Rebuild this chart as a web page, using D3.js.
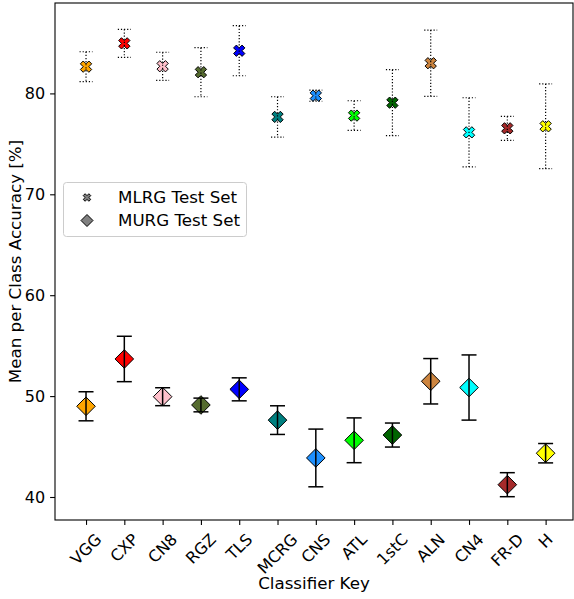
<!DOCTYPE html>
<html>
<head>
<meta charset="utf-8">
<script src="https://cdn.jsdelivr.net/npm/d3@7"></script>
<style>
  body { margin: 0; background: #fff; }
  text { font-family: "DejaVu Sans", sans-serif; fill: #000; }
</style>
</head>
<body>
<svg id="chart" width="574" height="599"></svg>
<script>
// classifier keys and their marker colours
var categories = ["VGG", "CXP", "CN8", "RGZ", "TLS", "MCRG", "CNS", "ATL", "1stC", "ALN", "CN4", "FR-D", "H"];
var colors = ["orange", "red", "pink", "darkolivegreen", "blue", "teal", "dodgerblue", "lime", "darkgreen", "peru", "cyan", "brown", "yellow"];

// MLRG test set: mean and error (+/-)
var mlrgMean = [82.65, 84.96, 82.69, 82.10, 84.23, 77.67, 79.77, 77.80, 79.08, 82.99, 76.14, 76.54, 76.74];
var mlrgErr  = [1.48, 1.39, 1.39, 2.43, 2.48, 2.00, 0.55, 1.47, 3.27, 3.29, 3.43, 1.19, 4.20];

// MURG test set: mean and error (+/-)
var murgMean = [48.99, 53.68, 49.94, 49.12, 50.67, 47.62, 43.87, 45.62, 46.14, 51.47, 50.85, 41.22, 44.34];
var murgErr  = [1.44, 2.25, 0.89, 0.68, 1.14, 1.42, 2.86, 2.22, 1.19, 2.25, 3.23, 1.19, 0.96];

var yTicks = [40, 50, 60, 70, 80];
var legendLabels = ["MLRG Test Set", "MURG Test Set"];

(function() {
var pL = 55, pR = 573, pT = 3, pB = 520;
var svg = d3.select("#chart");

var x = d3.scaleLinear().domain([-0.81, 12.715]).range([pL, pR]);
var y = d3.scaleLinear().domain([37.72, 88.96]).range([pB, pT]);

// filled "X" marker: a plus shape turned 45 degrees
function xMarker(s) {
    var u = s / 6;
    var pts = [[-1,-3],[1,-3],[1,-1],[3,-1],[3,1],[1,1],[1,3],[-1,3],[-1,1],[-3,1],[-3,-1],[-1,-1]];
    var c = Math.SQRT1_2;
    return "M" + pts.map(function(p){
        var px = p[0] * u, py = p[1] * u;
        return [(px - py) * c, (px + py) * c].join(",");
    }).join("L") + "Z";
}
function diamond(r) {
    return "M0," + (-r) + "L" + r + ",0L0," + r + "L" + (-r) + ",0Z";
}

// axes
var yAxis = svg.append("g")
    .attr("transform", "translate(" + pL + ",0)")
    .call(d3.axisLeft(y).tickValues(yTicks).tickSize(4.9).tickPadding(4.9));
var xAxis = svg.append("g")
    .attr("transform", "translate(0," + pB + ")")
    .call(d3.axisBottom(x).tickValues(d3.range(categories.length)).tickSize(4.9).tickFormat(""));
[yAxis, xAxis].forEach(function(a){
    a.select(".domain").remove();
    a.selectAll("line").attr("stroke", "#000").attr("stroke-width", 1.1);
});
yAxis.selectAll("text").attr("font-size", 16).attr("font-family", "DejaVu Sans");

// rotated x labels, bbox centred under the tick (like matplotlib rotation=45)
var fs = 16;
svg.append("g").selectAll("text")
    .data(categories)
    .enter().append("text")
    .attr("font-size", fs)
    .attr("text-anchor", "middle")
    .attr("dominant-baseline", "central")
    .text(function(d){ return d; })
    .attr("transform", function(d, i){
        var L = this.getComputedTextLength();
        var off = (L + 1.16 * fs) / (2 * Math.SQRT2);
        return "translate(" + x(i) + "," + (pB + 10 + off) + ") rotate(-45)";
    });

// frame
svg.append("rect")
    .attr("x", pL).attr("y", pT)
    .attr("width", pR - pL).attr("height", pB - pT)
    .attr("fill", "none").attr("stroke", "#000").attr("stroke-width", 1.1);

// MLRG: dotted error bars with X markers
var gA = svg.append("g");
gA.selectAll("path.mk")
    .data(mlrgMean)
    .enter().append("path")
    .attr("d", xMarker(12))
    .attr("transform", function(d, i){ return "translate(" + x(i) + "," + y(d) + ")"; })
    .attr("fill", function(d, i){ return colors[i]; })
    .attr("stroke", "#000").attr("stroke-width", 1);
var barsA = gA.selectAll("g.bar")
    .data(mlrgMean)
    .enter().append("g")
    .attr("stroke", "#000").attr("stroke-width", 1.2)
    .attr("stroke-dasharray", "1.2,1.9");
barsA.append("line")
    .attr("x1", function(d, i){ return x(i); }).attr("x2", function(d, i){ return x(i); })
    .attr("y1", function(d, i){ return y(d + mlrgErr[i]); })
    .attr("y2", function(d, i){ return y(d - mlrgErr[i]); });
[1, -1].forEach(function(sgn){
    barsA.append("line")
        .attr("x1", function(d, i){ return x(i) - 6.5; }).attr("x2", function(d, i){ return x(i) + 6.5; })
        .attr("y1", function(d, i){ return y(d + sgn * mlrgErr[i]); })
        .attr("y2", function(d, i){ return y(d + sgn * mlrgErr[i]); });
});

// MURG: solid error bars with diamond markers
var gB = svg.append("g");
gB.selectAll("path.mk")
    .data(murgMean)
    .enter().append("path")
    .attr("d", diamond(9.3))
    .attr("transform", function(d, i){ return "translate(" + x(i) + "," + y(d) + ")"; })
    .attr("fill", function(d, i){ return colors[i]; })
    .attr("stroke", "#000").attr("stroke-width", 1);
var barsB = gB.selectAll("g.bar")
    .data(murgMean)
    .enter().append("g")
    .attr("stroke", "#000").attr("stroke-width", 1.5);
barsB.append("line")
    .attr("x1", function(d, i){ return x(i); }).attr("x2", function(d, i){ return x(i); })
    .attr("y1", function(d, i){ return y(d + murgErr[i]); })
    .attr("y2", function(d, i){ return y(d - murgErr[i]); });
[1, -1].forEach(function(sgn){
    barsB.append("line")
        .attr("x1", function(d, i){ return x(i) - 7.5; }).attr("x2", function(d, i){ return x(i) + 7.5; })
        .attr("y1", function(d, i){ return y(d + sgn * murgErr[i]); })
        .attr("y2", function(d, i){ return y(d + sgn * murgErr[i]); });
});

// legend
var lg = svg.append("g");
lg.append("rect")
    .attr("x", 63.5).attr("y", 182.5).attr("width", 183).attr("height", 54).attr("rx", 3)
    .attr("fill", "#fff").attr("fill-opacity", 0.8)
    .attr("stroke", "#ccc").attr("stroke-width", 1);
lg.selectAll("path")
    .data(legendLabels)
    .enter().append("path")
    .attr("d", function(d, i){ return i === 0 ? xMarker(8) : diamond(6); })
    .attr("transform", function(d, i){ return "translate(87," + (197.5 + i * 23) + ")"; })
    .attr("fill", "grey").attr("stroke", "#000").attr("stroke-width", 1);
lg.selectAll("text")
    .data(legendLabels)
    .enter().append("text")
    .attr("x", 118).attr("y", function(d, i){ return 197.5 + i * 23; })
    .attr("dy", "0.35em")
    .attr("font-size", 16.7)
    .text(function(d){ return d; });

// axis titles
svg.append("text")
    .attr("x", (pL + pR) / 2).attr("y", 589)
    .attr("text-anchor", "middle").attr("font-size", 16.7)
    .text("Classifier Key");
svg.append("text")
    .attr("transform", "translate(21," + ((pT + pB) / 2) + ") rotate(-90)")
    .attr("text-anchor", "middle").attr("font-size", 16.7)
    .text("Mean per Class Accuracy [%]");
})();
</script>
</body>
</html>
